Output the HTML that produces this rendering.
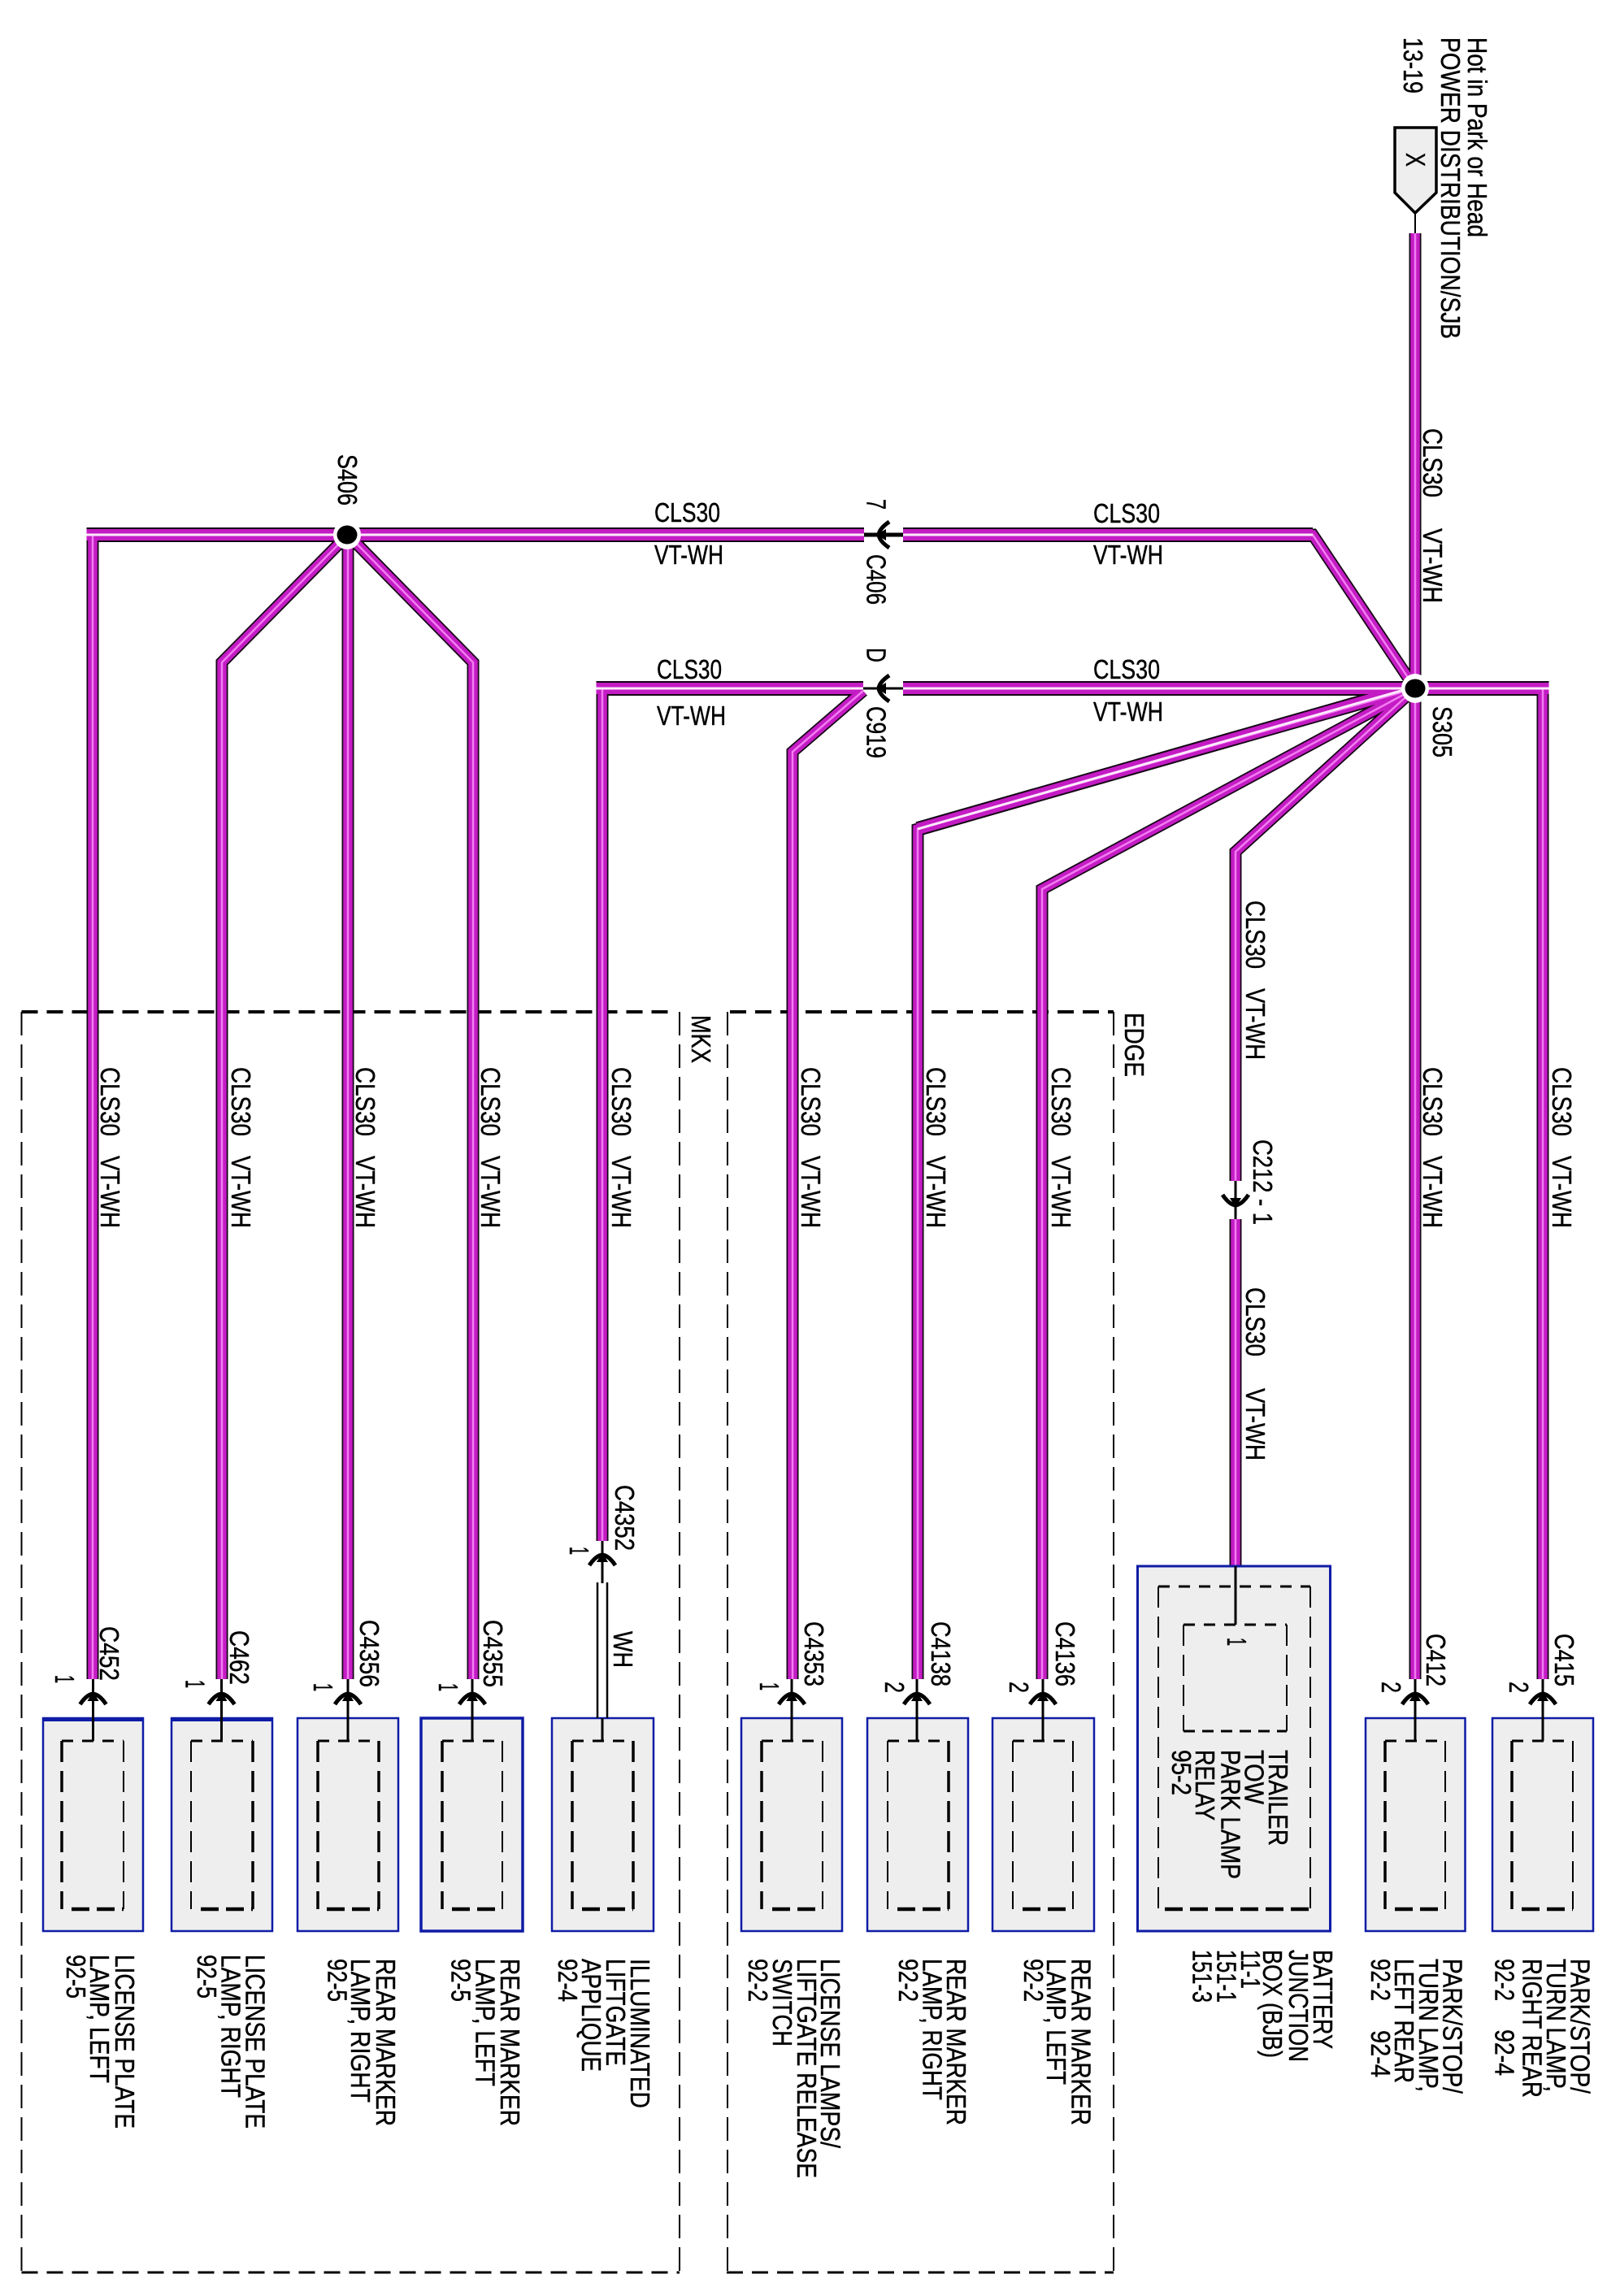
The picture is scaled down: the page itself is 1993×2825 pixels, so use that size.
<!DOCTYPE html>
<html><head><meta charset="utf-8"><title>Wiring diagram</title>
<style>
html,body{margin:0;padding:0;background:#fff}
svg{display:block}
text{font-family:"Liberation Sans",sans-serif;font-size:33px;fill:#000;stroke:#000;stroke-width:.45px}
</style></head><body>
<svg xmlns="http://www.w3.org/2000/svg" width="1993" height="2825" viewBox="0 0 1993 2825">
<defs>
<path id="wv" d="M1741 287V847M1741 847V2066M1741 847H1898V2066M1741 847L1520 1048V1453M1520 1500V1927M1741 847L1282 1094V2066M1741 847L1129 1020V2066M1111 658H1615L1741 847M741 1896V847H1062M1062 850L975 925V2066M428 658H114V2066M428 658L273 815V2066M428 658V2066M428 658L582 815V2066"/>
<path id="wh" d="M1063 658H428M428 658H106.5M1111 658H1615M1741 847H1111M1062 847H733.5M1741 847H1905.5M1741 845L1129 1020"/>
<g id="ar"><path d="M-16 15Q-8 3 0 2Q8 3 16 15" fill="none" stroke="#000" stroke-width="5"/><path d="M0 -1L-7 11L7 11Z" fill="#000"/></g>
</defs>

<!-- outer dashed regions -->
<g fill="none" stroke="#000">
<path d="M26.5 1245H825" stroke-width="4" stroke-dasharray="20 11"/>
<path d="M26.5 1245V2796M836 1245V2796" stroke-width="2" stroke-dasharray="29 11"/>
<path d="M26.5 2796H836" stroke-width="3" stroke-dasharray="20 11"/>
<path d="M898 1245H1370" stroke-width="4" stroke-dasharray="20 11"/>
<path d="M895 1245V2796M1370 1245V2796" stroke-width="2" stroke-dasharray="29 11"/>
<path d="M894 2796H1370" stroke-width="3" stroke-dasharray="20 11"/>
</g>

<!-- wires -->
<g fill="none" stroke-linejoin="miter" stroke-miterlimit="6">
<use href="#wv" stroke="#150515" stroke-width="15"/>
<use href="#wh" stroke="#150515" stroke-width="18"/>
<use href="#wv" stroke="#c41cc4" stroke-width="11.5"/>
<use href="#wh" stroke="#c41cc4" stroke-width="14"/>
<use href="#wv" stroke="#f27cf2" stroke-width="2.5"/>
<use href="#wh" stroke="#fde8fd" stroke-width="3"/>
</g>

<!-- boxes -->
<g fill="#eee" stroke="#0e1ca6" stroke-width="2.5">
<rect x="53" y="2114" width="123" height="262"/>
<rect x="211" y="2114" width="124" height="262"/>
<rect x="366" y="2114" width="124" height="262"/>
<rect x="518" y="2114" width="125" height="262" stroke-width="3.5"/>
<rect x="679" y="2114" width="125" height="262"/>
<rect x="912" y="2114" width="124" height="262"/>
<rect x="1067" y="2114" width="124" height="262"/>
<rect x="1221" y="2114" width="125" height="262"/>
<rect x="1399.5" y="1927" width="237" height="449" stroke-width="3"/>
<rect x="1680" y="2114" width="122.5" height="262"/>
<rect x="1836" y="2114" width="124" height="262"/>
</g>
<path d="M53 2115.5H176M211 2115.5H335" stroke="#0e1ca6" stroke-width="5"/>

<!-- inner dashed -->
<g fill="none" stroke="#000">
<g stroke-width="3" stroke-dasharray="14 11">
<path d="M76 2142H152M235 2142H311M391 2142H466M544 2142H618M704 2142H779M937 2142H1012M1092 2142H1167M1246 2142H1320M1704 2142H1778M1860 2142H1935M1425 1952H1612M1456 1999H1583"/>
</g>
<g stroke-width="3.5" stroke-dasharray="26 11">
<path d="M76 2142V2349M311 2142V2349M391 2142V2349M466 2142V2349M544 2142V2349M704 2142V2349M779 2142V2349M937 2142V2349M1167 2142V2349M1704 2142V2349M1860 2142V2349"/>
</g>
<g stroke-width="2" stroke-dasharray="26 11">
<path d="M152 2142V2349M235 2142V2349M618 2142V2349M1012 2142V2349M1092 2142V2349M1246 2142V2349M1320 2142V2349M1425 1952V2349M1612 1952V2349M1456 1999V2130M1583 1999V2130M1778 2142V2349M1935 2142V2349"/>
</g>
<g stroke-width="4.5" stroke-dasharray="22 9">
<path d="M88 2349H152M247 2349H311M402 2349H466M556 2349H618M716 2349H779M950 2349H1012M1104 2349H1167M1258 2349H1320M1433 2349H1612M1716 2349H1778M1872 2349H1935"/>
</g>
<path d="M1456 2130H1583" stroke-width="3" stroke-dasharray="14 9"/>
</g>

<!-- stems -->
<g stroke="#000" stroke-width="3" fill="none">
<path d="M114.5 2066V2142M272.5 2066V2142M428 2066V2142M581 2066V2142M974 2066V2142M1128 2066V2142M1283 2066V2142M1741 2066V2142M1898 2066V2142"/>
<path d="M1520 1453V1500M1520 1927V1999"/>
<path d="M741 1896V1948M741 2114V2142"/>
<path d="M735 1947V2114M747 1947V2114" stroke-width="2.5"/>
<path d="M1741 262V287" stroke-width="2"/>
<path d="M1063 658H1111" stroke-width="5"/>
<path d="M1062 847H1111"/>
</g>

<!-- arrows -->
<use href="#ar" transform="translate(114.5,2082)"/>
<use href="#ar" transform="translate(272.5,2082)"/>
<use href="#ar" transform="translate(428,2082)"/>
<use href="#ar" transform="translate(581,2082)"/>
<use href="#ar" transform="translate(741,1911)"/>
<use href="#ar" transform="translate(974,2082)"/>
<use href="#ar" transform="translate(1128,2082)"/>
<use href="#ar" transform="translate(1283,2082)"/>
<use href="#ar" transform="translate(1741,2082)"/>
<use href="#ar" transform="translate(1898,2082)"/>
<use href="#ar" transform="translate(1520,1485) rotate(180)"/>
<use href="#ar" transform="translate(1079,658) rotate(-90)"/>
<use href="#ar" transform="translate(1079,847) rotate(-90)"/>

<!-- splices -->
<ellipse cx="1741" cy="847" rx="17" ry="18" fill="#fff"/>
<ellipse cx="1741" cy="847" rx="12.5" ry="11.5" fill="#000"/>
<ellipse cx="427" cy="658" rx="17" ry="18" fill="#fff"/>
<ellipse cx="427" cy="658" rx="12.5" ry="11.5" fill="#000"/>

<!-- X tag -->
<polygon points="1716,157 1767,157 1767,237 1741,262 1716,237" fill="#eee" stroke="#000" stroke-width="3.5"/>

<!-- horizontal labels -->
<text x="1345" y="643" textLength="82" lengthAdjust="spacingAndGlyphs">CLS30</text>
<text x="1345" y="694" textLength="86" lengthAdjust="spacingAndGlyphs">VT-WH</text>
<text x="1345" y="835" textLength="82" lengthAdjust="spacingAndGlyphs">CLS30</text>
<text x="1345" y="887" textLength="86" lengthAdjust="spacingAndGlyphs">VT-WH</text>
<text x="805" y="642" textLength="81" lengthAdjust="spacingAndGlyphs">CLS30</text>
<text x="805" y="694" textLength="85" lengthAdjust="spacingAndGlyphs">VT-WH</text>
<text x="808" y="835" textLength="80" lengthAdjust="spacingAndGlyphs">CLS30</text>
<text x="808" y="892" textLength="85" lengthAdjust="spacingAndGlyphs">VT-WH</text>

<!-- rotated: header -->
<text transform="translate(1806,46) rotate(90)" textLength="246" lengthAdjust="spacingAndGlyphs">Hot in Park or Head</text>
<text transform="translate(1773,46) rotate(90)" textLength="371" lengthAdjust="spacingAndGlyphs">POWER DISTRIBUTION/SJB</text>
<text transform="translate(1727,46) rotate(90)" textLength="69" lengthAdjust="spacingAndGlyphs">13-19</text>
<text transform="translate(1730,188) rotate(90)" textLength="17" lengthAdjust="spacingAndGlyphs">X</text>

<!-- rotated: wire labels -->
<text transform="translate(1751,527) rotate(90)" textLength="85" lengthAdjust="spacingAndGlyphs">CLS30</text>
<text transform="translate(1751,650) rotate(90)" textLength="92" lengthAdjust="spacingAndGlyphs">VT-WH</text>
<text transform="translate(1533,1108) rotate(90)" textLength="84" lengthAdjust="spacingAndGlyphs">CLS30</text>
<text transform="translate(1533,1216) rotate(90)" textLength="88" lengthAdjust="spacingAndGlyphs">VT-WH</text>
<text transform="translate(1533,1584) rotate(90)" textLength="85" lengthAdjust="spacingAndGlyphs">CLS30</text>
<text transform="translate(1533,1708) rotate(90)" textLength="89" lengthAdjust="spacingAndGlyphs">VT-WH</text>
<text transform="translate(124,1313) rotate(90)" textLength="85" lengthAdjust="spacingAndGlyphs">CLS30</text>
<text transform="translate(124,1422) rotate(90)" textLength="89" lengthAdjust="spacingAndGlyphs">VT-WH</text>
<text transform="translate(285,1313) rotate(90)" textLength="85" lengthAdjust="spacingAndGlyphs">CLS30</text>
<text transform="translate(285,1422) rotate(90)" textLength="89" lengthAdjust="spacingAndGlyphs">VT-WH</text>
<text transform="translate(438,1313) rotate(90)" textLength="85" lengthAdjust="spacingAndGlyphs">CLS30</text>
<text transform="translate(438,1422) rotate(90)" textLength="89" lengthAdjust="spacingAndGlyphs">VT-WH</text>
<text transform="translate(592,1313) rotate(90)" textLength="85" lengthAdjust="spacingAndGlyphs">CLS30</text>
<text transform="translate(592,1422) rotate(90)" textLength="89" lengthAdjust="spacingAndGlyphs">VT-WH</text>
<text transform="translate(753,1313) rotate(90)" textLength="85" lengthAdjust="spacingAndGlyphs">CLS30</text>
<text transform="translate(753,1422) rotate(90)" textLength="89" lengthAdjust="spacingAndGlyphs">VT-WH</text>
<text transform="translate(986,1313) rotate(90)" textLength="85" lengthAdjust="spacingAndGlyphs">CLS30</text>
<text transform="translate(986,1422) rotate(90)" textLength="89" lengthAdjust="spacingAndGlyphs">VT-WH</text>
<text transform="translate(1140,1313) rotate(90)" textLength="85" lengthAdjust="spacingAndGlyphs">CLS30</text>
<text transform="translate(1140,1422) rotate(90)" textLength="89" lengthAdjust="spacingAndGlyphs">VT-WH</text>
<text transform="translate(1294,1313) rotate(90)" textLength="85" lengthAdjust="spacingAndGlyphs">CLS30</text>
<text transform="translate(1294,1422) rotate(90)" textLength="89" lengthAdjust="spacingAndGlyphs">VT-WH</text>
<text transform="translate(1751,1313) rotate(90)" textLength="85" lengthAdjust="spacingAndGlyphs">CLS30</text>
<text transform="translate(1751,1422) rotate(90)" textLength="89" lengthAdjust="spacingAndGlyphs">VT-WH</text>
<text transform="translate(1910,1313) rotate(90)" textLength="85" lengthAdjust="spacingAndGlyphs">CLS30</text>
<text transform="translate(1910,1422) rotate(90)" textLength="89" lengthAdjust="spacingAndGlyphs">VT-WH</text>
<text transform="translate(755,2007) rotate(90)" textLength="45" lengthAdjust="spacingAndGlyphs">WH</text>

<!-- rotated: refs -->
<text transform="translate(416,559) rotate(90)" textLength="63" lengthAdjust="spacingAndGlyphs">S406</text>
<text transform="translate(1763,869) rotate(90)" textLength="63" lengthAdjust="spacingAndGlyphs">S305</text>
<text transform="translate(1066.5,682) rotate(90)" textLength="62" lengthAdjust="spacingAndGlyphs">C406</text>
<text transform="translate(1066.5,614) rotate(90)" textLength="13" lengthAdjust="spacingAndGlyphs">7</text>
<text transform="translate(1066.5,869) rotate(90)" textLength="64" lengthAdjust="spacingAndGlyphs">C919</text>
<text transform="translate(1066.5,797) rotate(90)" textLength="18" lengthAdjust="spacingAndGlyphs">D</text>
<text transform="translate(851,1249) rotate(90)" textLength="59" lengthAdjust="spacingAndGlyphs">MKX</text>
<text transform="translate(1384,1246) rotate(90)" textLength="79" lengthAdjust="spacingAndGlyphs">EDGE</text>
<text transform="translate(1542,1402) rotate(90)" textLength="105" lengthAdjust="spacingAndGlyphs">C212 - 1</text>

<!-- rotated: connector ids -->
<text transform="translate(123,2001) rotate(90)" textLength="67" lengthAdjust="spacingAndGlyphs">C452</text>
<text transform="translate(283,2006) rotate(90)" textLength="67" lengthAdjust="spacingAndGlyphs">C462</text>
<text transform="translate(443,1993) rotate(90)" textLength="83" lengthAdjust="spacingAndGlyphs">C4356</text>
<text transform="translate(595,1993) rotate(90)" textLength="83" lengthAdjust="spacingAndGlyphs">C4355</text>
<text transform="translate(757,1827) rotate(90)" textLength="81" lengthAdjust="spacingAndGlyphs">C4352</text>
<text transform="translate(990,1995) rotate(90)" textLength="80" lengthAdjust="spacingAndGlyphs">C4353</text>
<text transform="translate(1146,1995) rotate(90)" textLength="80" lengthAdjust="spacingAndGlyphs">C4138</text>
<text transform="translate(1299,1995) rotate(90)" textLength="80" lengthAdjust="spacingAndGlyphs">C4136</text>
<text transform="translate(1755,2010) rotate(90)" textLength="65" lengthAdjust="spacingAndGlyphs">C412</text>
<text transform="translate(1913,2010) rotate(90)" textLength="65" lengthAdjust="spacingAndGlyphs">C415</text>

<!-- rotated: pins -->
<text transform="translate(68,2061) rotate(90)" textLength="10" lengthAdjust="spacingAndGlyphs">1</text>
<text transform="translate(228.5,2067) rotate(90)" textLength="10" lengthAdjust="spacingAndGlyphs">1</text>
<text transform="translate(386,2071) rotate(90)" textLength="10" lengthAdjust="spacingAndGlyphs">1</text>
<text transform="translate(540,2071) rotate(90)" textLength="10" lengthAdjust="spacingAndGlyphs">1</text>
<text transform="translate(701,1903) rotate(90)" textLength="10" lengthAdjust="spacingAndGlyphs">1</text>
<text transform="translate(935,2070) rotate(90)" textLength="10" lengthAdjust="spacingAndGlyphs">1</text>
<text transform="translate(1089,2069) rotate(90)" textLength="14" lengthAdjust="spacingAndGlyphs">2</text>
<text transform="translate(1242,2069) rotate(90)" textLength="14" lengthAdjust="spacingAndGlyphs">2</text>
<text transform="translate(1700,2069) rotate(90)" textLength="14" lengthAdjust="spacingAndGlyphs">2</text>
<text transform="translate(1857,2069) rotate(90)" textLength="14" lengthAdjust="spacingAndGlyphs">2</text>
<text transform="translate(1510,2015) rotate(90)" textLength="10" lengthAdjust="spacingAndGlyphs">1</text>

<!-- relay labels -->
<text transform="translate(1561,2153) rotate(90)" textLength="118" lengthAdjust="spacingAndGlyphs">TRAILER</text>
<text transform="translate(1531.5,2153) rotate(90)" textLength="67" lengthAdjust="spacingAndGlyphs">TOW</text>
<text transform="translate(1502.4,2153) rotate(90)" textLength="159" lengthAdjust="spacingAndGlyphs">PARK LAMP</text>
<text transform="translate(1471,2153) rotate(90)" textLength="87" lengthAdjust="spacingAndGlyphs">RELAY</text>
<text transform="translate(1442,2153) rotate(90)" textLength="56" lengthAdjust="spacingAndGlyphs">95-2</text>

<!-- component labels -->
<text transform="translate(142,2405) rotate(90)" textLength="214" lengthAdjust="spacingAndGlyphs">LICENSE PLATE</text>
<text transform="translate(111,2405) rotate(90)" textLength="158" lengthAdjust="spacingAndGlyphs">LAMP, LEFT</text>
<text transform="translate(82,2405) rotate(90)" textLength="54" lengthAdjust="spacingAndGlyphs">92-5</text>

<text transform="translate(302.5,2405) rotate(90)" textLength="214" lengthAdjust="spacingAndGlyphs">LICENSE PLATE</text>
<text transform="translate(272.7,2405) rotate(90)" textLength="176" lengthAdjust="spacingAndGlyphs">LAMP, RIGHT</text>
<text transform="translate(243,2405) rotate(90)" textLength="54" lengthAdjust="spacingAndGlyphs">92-5</text>

<text transform="translate(463,2410) rotate(90)" textLength="206" lengthAdjust="spacingAndGlyphs">REAR MARKER</text>
<text transform="translate(432,2410) rotate(90)" textLength="177" lengthAdjust="spacingAndGlyphs">LAMP, RIGHT</text>
<text transform="translate(403.5,2410) rotate(90)" textLength="53" lengthAdjust="spacingAndGlyphs">92-5</text>

<text transform="translate(616,2410) rotate(90)" textLength="206" lengthAdjust="spacingAndGlyphs">REAR MARKER</text>
<text transform="translate(585.5,2410) rotate(90)" textLength="157" lengthAdjust="spacingAndGlyphs">LAMP, LEFT</text>
<text transform="translate(555.7,2410) rotate(90)" textLength="53" lengthAdjust="spacingAndGlyphs">92-5</text>

<text transform="translate(776,2410) rotate(90)" textLength="184" lengthAdjust="spacingAndGlyphs">ILLUMINATED</text>
<text transform="translate(746,2410) rotate(90)" textLength="132" lengthAdjust="spacingAndGlyphs">LIFTGATE</text>
<text transform="translate(716,2410) rotate(90)" textLength="139" lengthAdjust="spacingAndGlyphs">APPLIQUE</text>
<text transform="translate(687,2410) rotate(90)" textLength="53" lengthAdjust="spacingAndGlyphs">92-4</text>

<text transform="translate(1010,2410) rotate(90)" textLength="233" lengthAdjust="spacingAndGlyphs">LICENSE LAMPS/</text>
<text transform="translate(981,2410) rotate(90)" textLength="270" lengthAdjust="spacingAndGlyphs">LIFTGATE RELEASE</text>
<text transform="translate(951,2410) rotate(90)" textLength="108" lengthAdjust="spacingAndGlyphs">SWITCH</text>
<text transform="translate(921,2410) rotate(90)" textLength="53" lengthAdjust="spacingAndGlyphs">92-2</text>

<text transform="translate(1165,2410) rotate(90)" textLength="205" lengthAdjust="spacingAndGlyphs">REAR MARKER</text>
<text transform="translate(1135.5,2410) rotate(90)" textLength="174" lengthAdjust="spacingAndGlyphs">LAMP, RIGHT</text>
<text transform="translate(1106,2410) rotate(90)" textLength="53" lengthAdjust="spacingAndGlyphs">92-2</text>

<text transform="translate(1318.6,2410) rotate(90)" textLength="205" lengthAdjust="spacingAndGlyphs">REAR MARKER</text>
<text transform="translate(1288,2410) rotate(90)" textLength="155" lengthAdjust="spacingAndGlyphs">LAMP, LEFT</text>
<text transform="translate(1260,2410) rotate(90)" textLength="53" lengthAdjust="spacingAndGlyphs">92-2</text>

<text transform="translate(1616,2399) rotate(90)" textLength="122" lengthAdjust="spacingAndGlyphs">BATTERY</text>
<text transform="translate(1586,2399) rotate(90)" textLength="138" lengthAdjust="spacingAndGlyphs">JUNCTION</text>
<text transform="translate(1554,2399) rotate(90)" textLength="133" lengthAdjust="spacingAndGlyphs">BOX (BJB)</text>
<text transform="translate(1527,2399) rotate(90)" textLength="48" lengthAdjust="spacingAndGlyphs">11-1</text>
<text transform="translate(1497.5,2399) rotate(90)" textLength="65" lengthAdjust="spacingAndGlyphs">151-1</text>
<text transform="translate(1467.6,2399) rotate(90)" textLength="65" lengthAdjust="spacingAndGlyphs">151-3</text>

<text transform="translate(1775.6,2410) rotate(90)" textLength="166" lengthAdjust="spacingAndGlyphs">PARK/STOP/</text>
<text transform="translate(1746,2410) rotate(90)" textLength="164" lengthAdjust="spacingAndGlyphs">TURN LAMP,</text>
<text transform="translate(1716,2410) rotate(90)" textLength="153" lengthAdjust="spacingAndGlyphs">LEFT REAR</text>
<text transform="translate(1687,2410) rotate(90)" textLength="52" lengthAdjust="spacingAndGlyphs">92-2</text>
<text transform="translate(1687,2498) rotate(90)" textLength="58" lengthAdjust="spacingAndGlyphs">92-4</text>

<text transform="translate(1932.5,2410) rotate(90)" textLength="166" lengthAdjust="spacingAndGlyphs">PARK/STOP/</text>
<text transform="translate(1903,2410) rotate(90)" textLength="164" lengthAdjust="spacingAndGlyphs">TURN LAMP,</text>
<text transform="translate(1873.6,2410) rotate(90)" textLength="171" lengthAdjust="spacingAndGlyphs">RIGHT REAR</text>
<text transform="translate(1839.5,2410) rotate(90)" textLength="52" lengthAdjust="spacingAndGlyphs">92-2</text>
<text transform="translate(1839.5,2497) rotate(90)" textLength="57" lengthAdjust="spacingAndGlyphs">92-4</text>
</svg>
</body></html>
